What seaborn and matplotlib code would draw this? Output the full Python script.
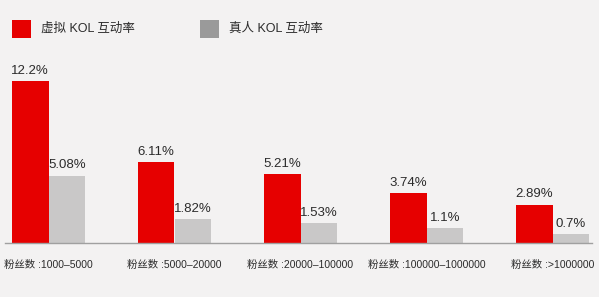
import matplotlib
matplotlib.use("Agg")
import matplotlib.pyplot as plt
import seaborn as sns
import pandas as pd
from matplotlib.patches import Rectangle

categories = ["粉丝数 :1000–5000", "粉丝数 :5000–20000", "粉丝数 :20000–100000",
              "粉丝数 :100000–1000000", "粉丝数 :>1000000"]
series_names = ["虚拟 KOL 互动率", "真人 KOL 互动率"]
virtual_rate = [12.2, 6.11, 5.21, 3.74, 2.89]
human_rate = [5.08, 1.82, 1.53, 1.1, 0.7]
value_labels_virtual = ["12.2%", "6.11%", "5.21%", "3.74%", "2.89%"]
value_labels_human = ["5.08%", "1.82%", "1.53%", "1.1%", "0.7%"]

sns.set_theme(style="white")
plt.rcParams['font.family'] = ['Liberation Sans', 'Noto Sans CJK SC', 'DejaVu Sans']

bg = "#f3f2f2"
red = "#e60000"
gray_bar = "#c9c8c8"
gray_leg = "#9a9a9a"
text_c = "#2b2b2b"

df = pd.DataFrame({
    "cat": categories * 2,
    "series": [series_names[0]] * 5 + [series_names[1]] * 5,
    "value": virtual_rate + human_rate,
})

fig = plt.figure(figsize=(5.99, 2.97), dpi=100, facecolor=bg)
ax = fig.add_axes([0.0, 54 / 297, 1.0, 183 / 297])
ax.set_facecolor(bg)

sns.barplot(data=df, x="cat", y="value", hue="series", order=categories,
            hue_order=series_names, palette=[red, gray_bar], width=0.585,
            saturation=1, legend=False, linewidth=0, ax=ax)

# x mapping: group centers at pixels 48.5 + 126*i ; axes spans full width 599 px
pitch = 126.0
left = -48.5 / pitch
right = left + 599 / pitch
ax.set_xlim(left, right)
ax.set_ylim(0, 12.2 / (162 / 183))

for sp in ["top", "right", "left"]:
    ax.spines[sp].set_visible(False)
ax.spines["bottom"].set_color("#a0a0a0")
ax.spines["bottom"].set_linewidth(1.0)
ax.spines["bottom"].set_bounds(left + 5 / pitch, left + 592 / pitch)
ax.set_yticks([])
ax.set_xlabel("")
ax.set_ylabel("")
ax.tick_params(axis="x", length=0, pad=12, labelsize=7.5, labelcolor=text_c)

labels_all = [value_labels_virtual, value_labels_human]
for container, labs in zip(ax.containers, labels_all):
    ax.bar_label(container, labels=labs, padding=3, fontsize=9.5, color=text_c)

# legend
fig.patches.append(Rectangle((12 / 599, 1 - 38 / 297), 19 / 599, 18 / 297,
                             transform=fig.transFigure, facecolor=red, edgecolor="none"))
fig.text(41 / 599, 1 - 29 / 297, series_names[0], fontsize=9, color=text_c, va="center")
fig.patches.append(Rectangle((200 / 599, 1 - 38 / 297), 19 / 599, 18 / 297,
                             transform=fig.transFigure, facecolor=gray_leg, edgecolor="none"))
fig.text(229 / 599, 1 - 29 / 297, series_names[1], fontsize=9, color=text_c, va="center")

fig.savefig("out.png", dpi=100, facecolor=bg)
